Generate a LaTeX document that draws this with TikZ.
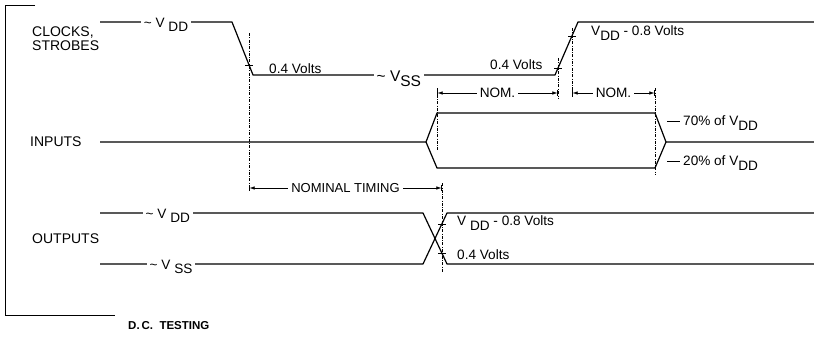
\documentclass[tikz,border=0pt]{standalone}
\usepackage{fontspec}
\setmainfont{Liberation Sans}
\usetikzlibrary{arrows.meta}
\newcommand{\lowsub}[1]{\raisebox{-0.6ex}{#1}}

\begin{document}
\begin{tikzpicture}[x=1pt,y=-1pt,>={Latex[length=5pt,width=3.5pt]},
    wave/.style={line width=1.2pt,line join=round},
    guide/.style={line width=0.5pt,dash pattern=on 3pt off 1.5pt on 0.6pt off 1.5pt},
    tick/.style={line width=0.7pt},
    dim/.style={line width=0.6pt,|<->|},
    tag/.style={font=\fontsize{13.6}{15}\selectfont,inner sep=1pt},
    gap/.style={tag,fill=white,inner sep=3pt},
    side/.style={font=\fontsize{14}{14}\selectfont,anchor=west,align=left,inner sep=0pt}]
  \useasboundingbox (0,0) rectangle (814,337);
  % frame
  \draw[line width=0.8pt] (35,5) -- (5,5) -- (5,315) -- (115,315);
  \node[font=\fontsize{11.5}{12}\selectfont\bfseries,anchor=west,inner sep=0pt] (title) at (128,326) {D.\,C.\ \ TESTING};

  % row labels
  \node[side] (clk) at (32,39) {CLOCKS,\\STROBES};
  \node[side] (inp) at (30,142) {INPUTS};
  \node[side] (outp) at (32,239) {OUTPUTS};

  % clocks, strobes
  \draw[wave] (100,22) -- node[gap,yshift=-3pt] (cvdd) {\textasciitilde\ V\ \lowsub{DD}} (232,22)
    -- (253,75) -- node[gap,pos=0.483,yshift=-4pt,font=\fontsize{15.5}{17}\selectfont] (cvss) {\textasciitilde\ V\lowsub{SS}} (555,75)
    -- (578,22) -- (814,22);
  \node[tag,anchor=west] (clo1) at (268,69) {0.4 Volts};
  \node[tag,anchor=west] (clo2) at (489,65) {0.4 Volts};
  \node[tag,anchor=west] (chi) at (590,33) {V\lowsub{DD} - 0.8 Volts};
  \draw[guide] (249,33) -- (249,188);
  \draw[guide] (558,58) -- (558,98);
  \draw[guide] (572,28) -- (572,98);
  \draw[tick] (245,65) -- (253,65);
  \draw[tick] (554,68) -- (562,68);
  \draw[tick] (568,36) -- (576,36);

  % inputs
  \draw[wave] (100,142) -- (426,142) -- (437,113) -- (655,113) -- (666,142) -- (814,142);
  \draw[wave] (426,142) -- (437,168) -- (655,168) -- (666,142);
  \draw[guide] (437,88) -- (437,150);
  \draw[guide] (655,88) -- (655,174);
  \coordinate (n0) at (437,93);
  \coordinate (n1) at (558,93);
  \coordinate (n2) at (572,93);
  \coordinate (n3) at (655,93);
  \draw[dim] (n0) -- node[gap] (nom1) {NOM.} (n1);
  \draw[dim] (n2) -- node[gap] (nom2) {NOM.} (n3);
  \draw[tick] (667,121) -- (680,121);
  \draw[tick] (667,161) -- (680,161);
  \node[tag,anchor=west] (p70) at (682,123) {70\% of V\lowsub{DD}};
  \node[tag,anchor=west] (p20) at (682,163) {20\% of V\lowsub{DD}};

  % nominal timing
  \coordinate (t0) at (249,188);
  \coordinate (t1) at (442,188);
  \draw[dim] (t0) -- node[gap,font=\fontsize{13}{15}\selectfont] (nomt) {NOMINAL TIMING} (t1);

  % outputs
  \draw[wave] (100,213) -- node[gap,pos=0.21,yshift=-3pt] (ovdd) {\textasciitilde\ V\ \lowsub{DD}} (423,213)
    -- (447,264) -- (814,264);
  \draw[wave] (100,264) -- node[gap,pos=0.22,yshift=-3pt] (ovss) {\textasciitilde\ V\ \lowsub{SS}} (423,264)
    -- (447,213) -- (814,213);
  \draw[guide] (442,183) -- (442,272);
  \draw[tick] (438,224) -- (446,224);
  \draw[tick] (438,253) -- (446,253);
  \node[tag,anchor=west] (ohi) at (456,223) {V\ \lowsub{DD} - 0.8 Volts};
  \node[tag,anchor=west] (olo) at (456,255) {0.4 Volts};
\end{tikzpicture}
\end{document}
